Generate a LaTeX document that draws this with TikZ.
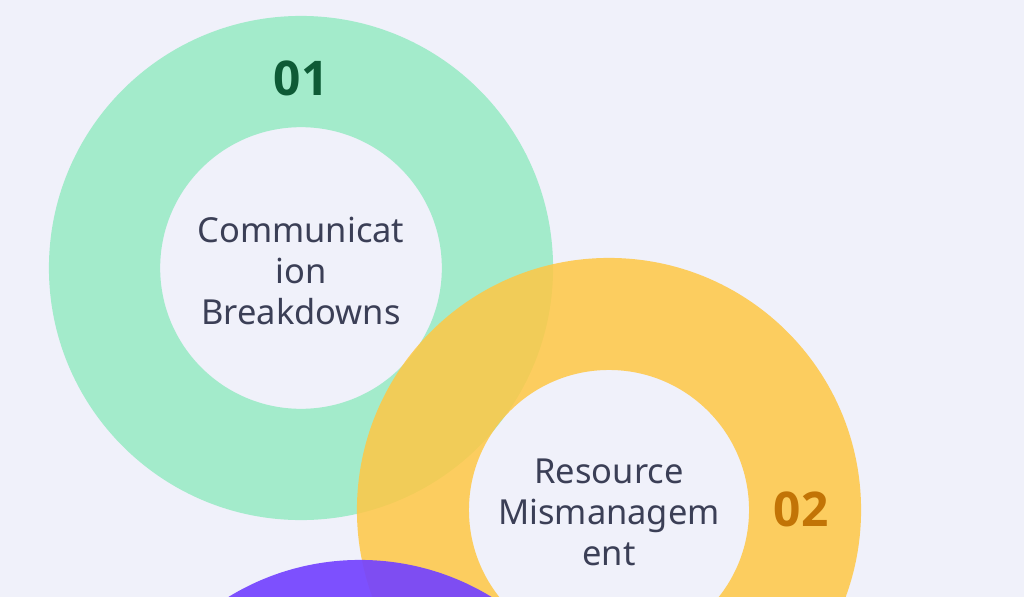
\documentclass[tikz,border=0pt]{standalone}
\usepackage{fontspec}
\setmainfont{Noto Sans}
\newfontfamily\numfont{Open Sans}
\usetikzlibrary{positioning}
\definecolor{Back}{HTML}{F0F1FA}
\definecolor{Mint}{HTML}{A3EBCB}
\definecolor{MintText}{HTML}{0E5A36}
\definecolor{Sun}{HTML}{FFC744}
\definecolor{SunText}{HTML}{C27406}
\definecolor{Violet}{HTML}{7443FF}
\definecolor{Ink}{HTML}{3B3F56}
\tikzset{
    ring/.style={even odd rule, draw=none},
    label/.style={align=center, text=Ink, font=\fontsize{24.5}{29.2}\selectfont, inner sep=0pt},
    number/.style={font=\numfont\fontsize{34}{40}\selectfont\bfseries, inner sep=0pt},
}

\begin{document}
\begin{tikzpicture}[x=0.025cm, y=-0.025cm]
    % Sfondo
    \fill[Back] (0,0) rectangle (1024,597);
    \useasboundingbox (0,0) rectangle (1024,597);

    % Anelli
    \fill[ring, Mint] (301,268) circle (6.3cm) (301,268) circle (3.52cm);
    \fill[ring, Sun, opacity=0.85] (609,510) circle (6.3cm) (609,510) circle (3.5cm);
    \fill[ring, Violet, opacity=0.92] (360,812) circle (6.3cm) (360,812) circle (3.5cm);

    % Testi
    \node[number, text=MintText] (n1) at (301,78) {01};
    \node[label] (t1) at (301,271) {Communicat\\ion\\Breakdowns};
    \node[number, text=SunText] (n2) at (801,509) {02};
    \node[label] (t2) at (609,512) {Resource\\Mismanagem\\ent};
\end{tikzpicture}
\end{document}
